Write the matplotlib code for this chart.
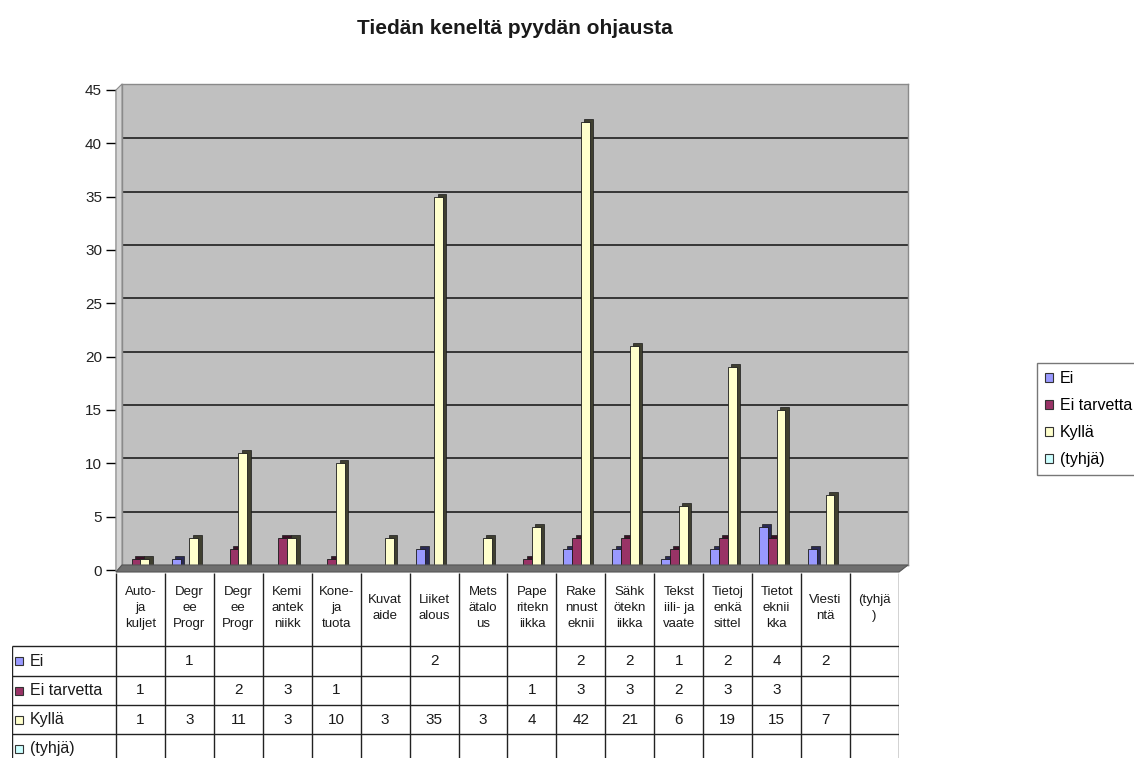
import matplotlib
matplotlib.use("Agg")
import matplotlib.pyplot as plt
import numpy as np
from matplotlib.patches import Polygon, Rectangle, Patch

plt.rcParams["font.family"] = ["Liberation Sans", "DejaVu Sans"]

TITLE = "Tiedän keneltä pyydän ohjausta"
categories = ["Auto-\nja\nkuljet", "Degr\nee\nProgr", "Degr\nee\nProgr", "Kemi\nantek\nniikk",
              "Kone-\nja\ntuota", "Kuvat\naide", "Liiket\nalous", "Mets\nätalo\nus",
              "Pape\nritekn\niikka", "Rake\nnnust\neknii", "Sähk\nötekn\niikka", "Tekst\niili- ja\nvaate",
              "Tietoj\nenkä\nsittel", "Tietot\neknii\nkka", "Viesti\nntä", "(tyhjä\n)"]
series_names = ["Ei", "Ei tarvetta", "Kyllä", "(tyhjä)"]
nan = np.nan
ei = [nan, 1, nan, nan, nan, nan, 2, nan, nan, 2, 2, 1, 2, 4, 2, nan]
ei_tarvetta = [1, nan, 2, 3, 1, nan, nan, nan, 1, 3, 3, 2, 3, 3, nan, nan]
kylla = [1, 3, 11, 3, 10, 3, 35, 3, 4, 42, 21, 6, 19, 15, 7, nan]
tyhja = [nan] * 16
series_colors = ["#9999FF", "#993366", "#FFFFCC", "#CCFFFF"]
side_colors = ["#2a2a55", "#3a1025", "#3f3f30", "#3f5555"]
yticks = list(range(0, 50, 5))

W, H = 1134, 758
fig = plt.figure(figsize=(W / 100, H / 100), dpi=100)


def fx(px):
    return px / W


def fy(py):
    return 1 - py / H


# 3D wall, side wall and floor (figure pixel layout)
fig.patches.append(Polygon([(fx(116), fy(90)), (fx(122), fy(84)), (fx(122), fy(565)), (fx(116), fy(572))],
                           closed=True, transform=fig.transFigure, facecolor="#d4d4d4",
                           edgecolor="#8a8a8a", lw=0.8, zorder=0))
fig.patches.append(Polygon([(fx(116), fy(572)), (fx(899), fy(572)), (fx(908), fy(565)), (fx(122), fy(565))],
                           closed=True, transform=fig.transFigure, facecolor="#6e6e6e",
                           edgecolor="#555555", lw=0.8, zorder=0))

wall = fig.add_axes([fx(122), fy(565), fx(908) - fx(122), fy(84) - fy(565)])
wall.set_facecolor("#c0c0c0")
wall.set_ylim(0, 45 * 481 / 480)
wall.set_xlim(0, 1)
wall.set_xticks([])
wall.set_yticks([])
for s in wall.spines.values():
    s.set_color("#8a8a8a")
    s.set_linewidth(1.0)
wall.hlines(yticks[1:-1], 0, 1, colors="#2b2b2b", lw=1.3)
wall.set_zorder(0)

# main bar axes
ax = fig.add_axes([fx(116), fy(570), fx(899) - fx(116), fy(90) - fy(570)])
ax.set_facecolor("none")
ax.set_xlim(-0.5, 15.5)
ax.set_ylim(0, 45)
ax.set_yticks(yticks)
ax.set_xticks([])
ax.tick_params(axis="y", direction="out", length=7, width=1, labelsize=11, labelcolor="#222222", pad=3)
for side in ["top", "right", "bottom"]:
    ax.spines[side].set_visible(False)
ax.spines["left"].set_linewidth(1.0)
ax.spines["left"].set_color("#333333")

x = np.arange(len(categories))
bw = 0.18
offsets = [-0.27, -0.09, 0.09, 0.27]
dx, dy = 0.07, 0.28
for vals, col, side, off in zip([ei, ei_tarvetta, kylla, tyhja], series_colors, side_colors, offsets):
    v = np.array(vals, dtype=float)
    ax.bar(x + off + dx, v, bw, bottom=dy, color=side, edgecolor="#1a1a1a", lw=0.5, zorder=2)
    ax.bar(x + off, v, bw, color=col, edgecolor="#1a1a1a", lw=0.6, zorder=3)

fig.text(fx(515), fy(28), TITLE, ha="center", va="center", fontsize=15, fontweight="bold", color="#1a1a1a")

# data table
tab = fig.add_axes([fx(12), 0, fx(899) - fx(12), fy(570)])
tab.set_axis_off()
left = -0.5 - (116 - 12) / ((899 - 116) / 16)
tab.set_xlim(left, 15.5)
tab.set_ylim(188, 0)
row_lines = [76, 106, 135, 164]
lc = "#222222"
tab.vlines(np.arange(-0.5, 16.5, 1), 3, 188, colors=lc, lw=1.0)
tab.vlines([left + 0.01], row_lines[0], 188, colors=lc, lw=1.0)
tab.hlines(row_lines, left + 0.01, 15.5, colors=lc, lw=1.0)

for i, lab in enumerate(categories):
    tab.text(i, 38, lab, ha="center", va="center", fontsize=9.5, linespacing=1.45, color="#1a1a1a")

rows = [ei, ei_tarvetta, kylla, tyhja]
bounds = row_lines + [194]
for r, (name, vals, col) in enumerate(zip(series_names, rows, series_colors)):
    yc = (bounds[r] + bounds[r + 1]) / 2
    tab.add_patch(Rectangle((left + 0.06, yc - 4), 0.16, 8, facecolor=col, edgecolor="#333333", lw=0.8))
    tab.text(left + 0.36, yc, name, ha="left", va="center", fontsize=11.5, color="#1a1a1a")
    for i, v in enumerate(vals):
        if not np.isnan(v):
            tab.text(i, yc, f"{int(v)}", ha="center", va="center", fontsize=11, color="#1a1a1a")

# legend
handles = [Patch(facecolor=c, edgecolor="#333333", lw=0.8) for c in series_colors]
leg = fig.legend(handles, series_names, loc="upper left", bbox_to_anchor=(fx(1037), fy(363)),
                 fontsize=11.5, frameon=True, fancybox=False, borderaxespad=0, handlelength=0.5,
                 handleheight=0.5, handletextpad=0.45, labelspacing=0.75, borderpad=0.5)
leg.get_frame().set_edgecolor("#555555")
leg.get_frame().set_linewidth(1.0)

fig.savefig("out.png", dpi=100)
